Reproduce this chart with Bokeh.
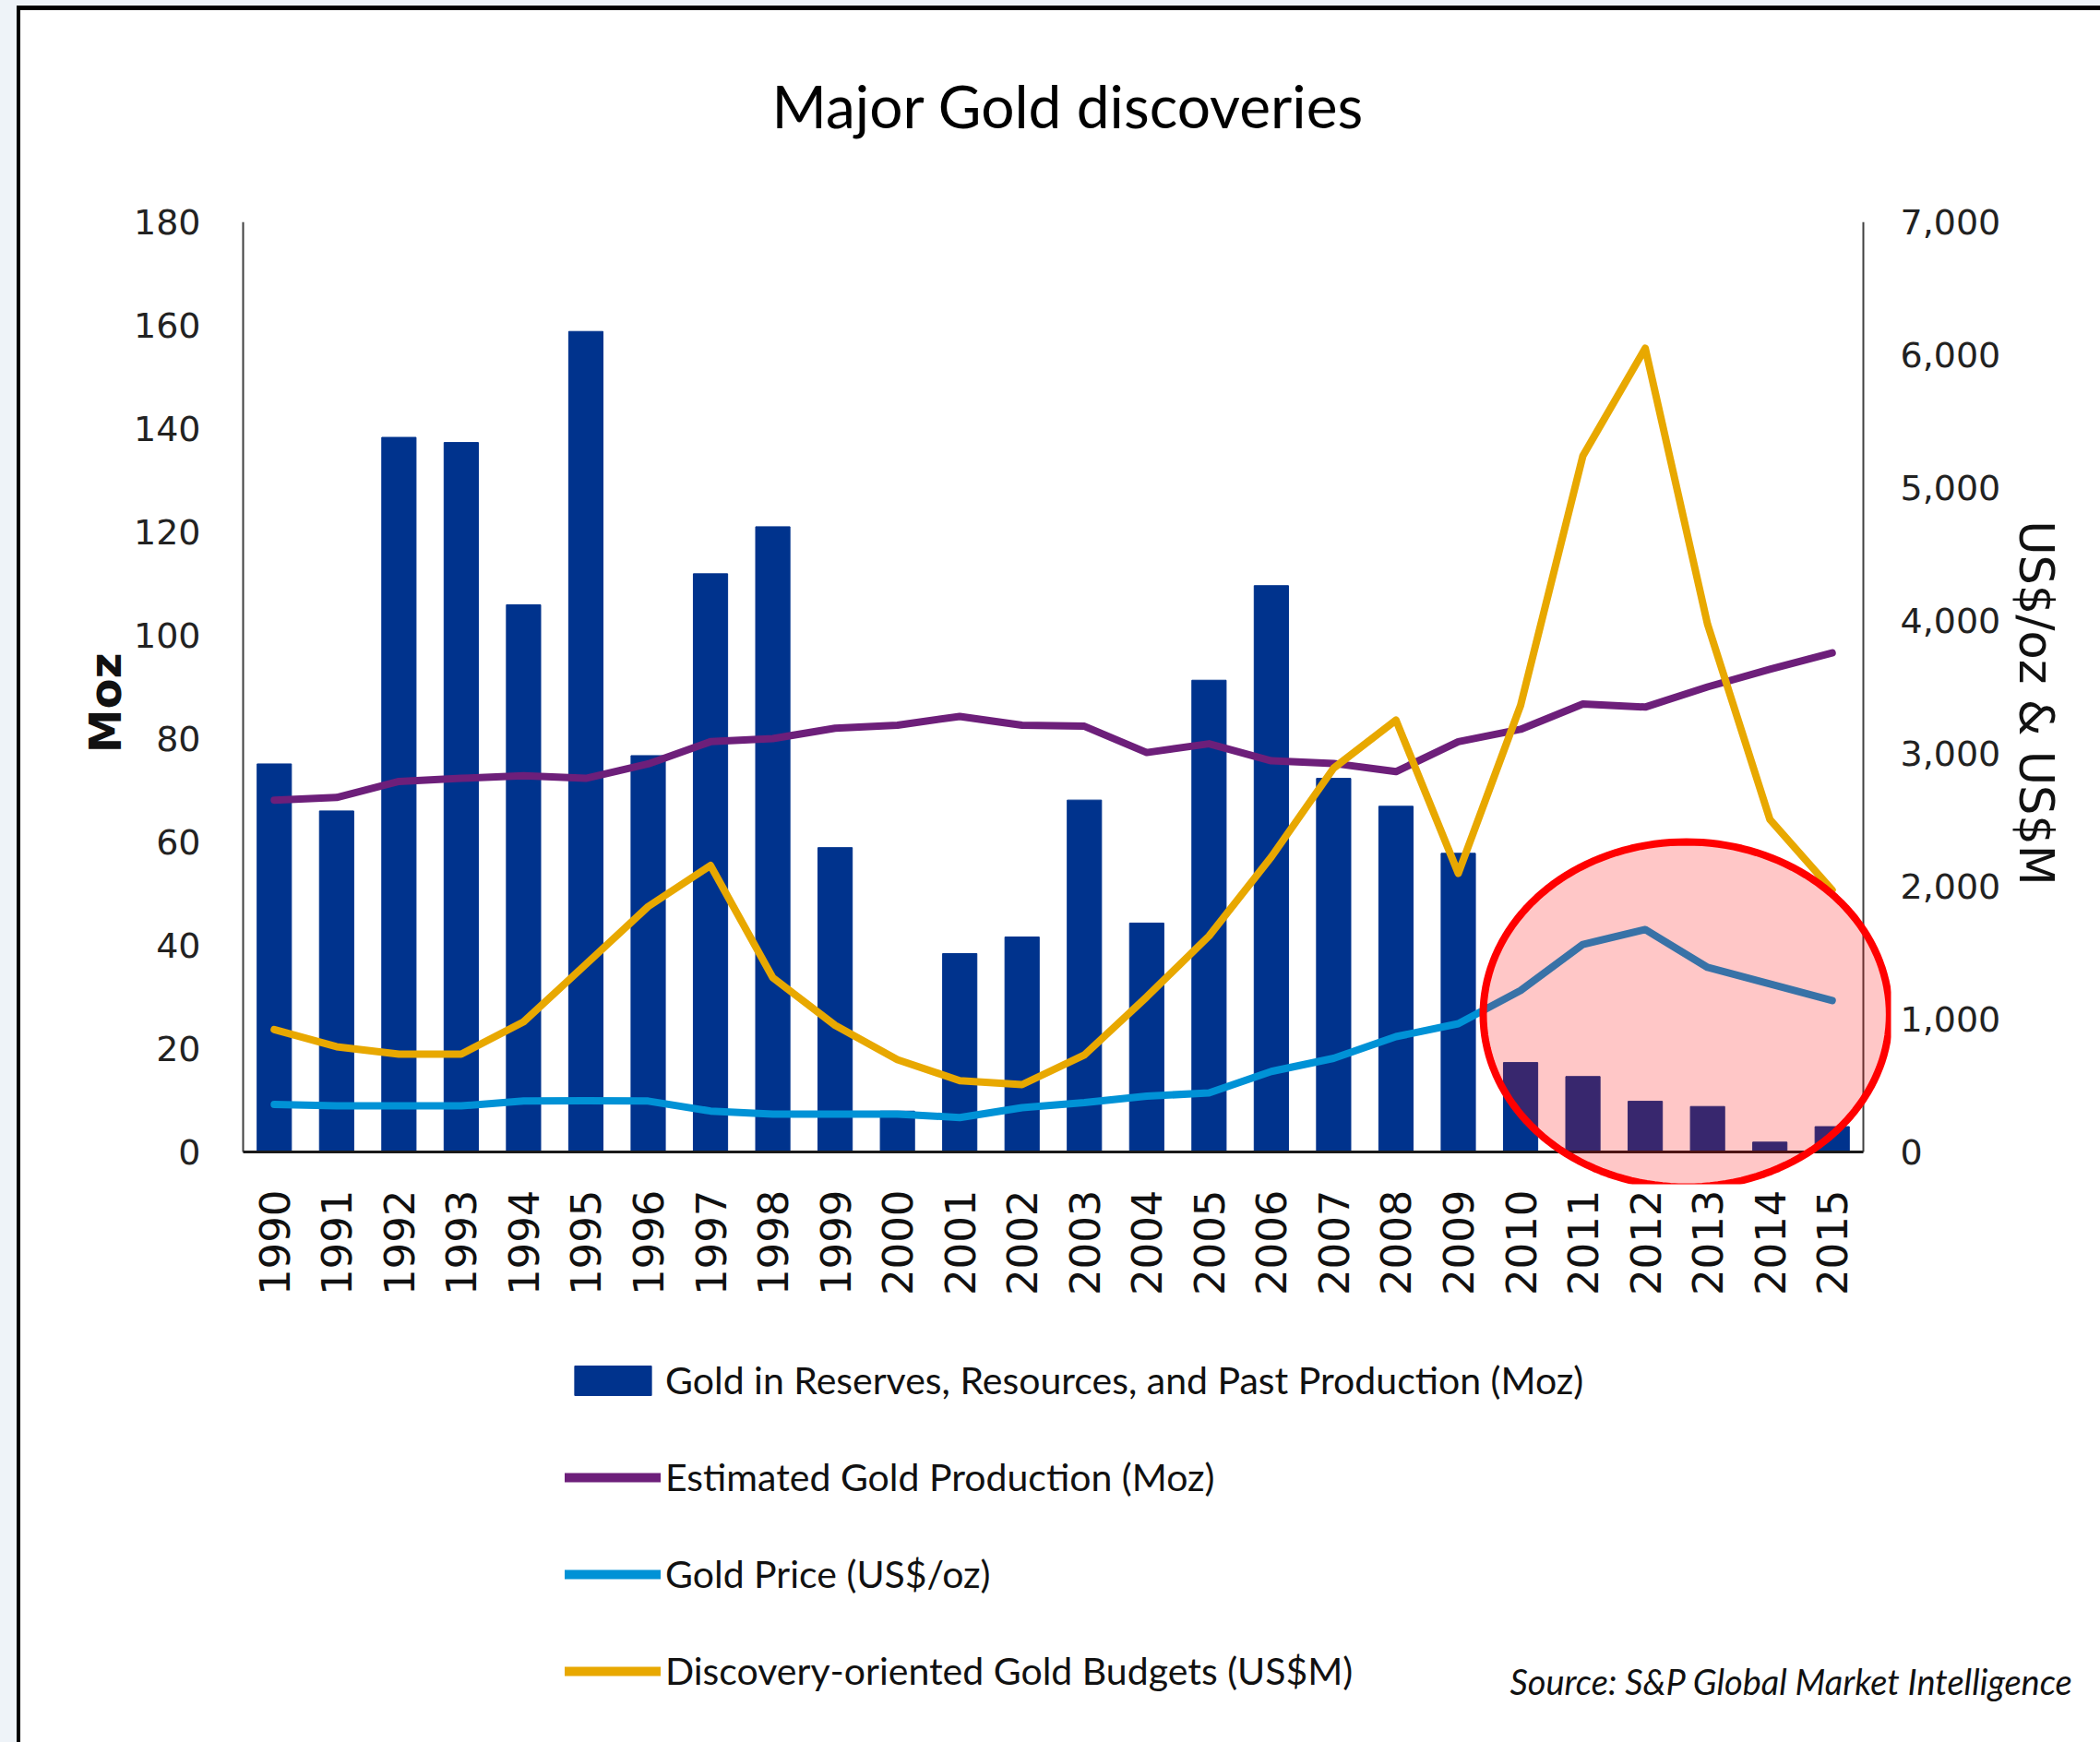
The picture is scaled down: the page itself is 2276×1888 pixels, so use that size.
import math
from bokeh.plotting import figure
from bokeh.layouts import column
from bokeh.models import (FactorRange, Range1d, LinearAxis, NumeralTickFormatter, FixedTicker,
                          Legend, LegendItem, PolyAnnotation, Label, ColumnDataSource)
from bokeh.embed import file_html
from bokeh.resources import INLINE

# ---------------- data ----------------
years = [str(y) for y in range(1990, 2016)]
discoveries_moz = [75.1, 66.0, 138.3, 137.3, 105.9, 158.8, 76.7, 111.9, 121.0, 58.9, 7.9, 38.4, 41.6,
                   68.1, 44.3, 91.3, 109.6, 72.3, 66.9, 57.8, 17.3, 14.6, 9.8, 8.8, 1.9, 4.9]
production_moz = [68.1, 68.6, 71.7, 72.3, 72.8, 72.3, 75.1, 79.4, 80.0, 82.0, 82.6, 84.3, 82.6,
                  82.4, 77.3, 79.0, 75.7, 75.2, 73.6, 79.4, 81.8, 86.7, 86.1, 90.0, 93.4, 96.6]
gold_price = [358, 347, 347, 347, 383, 385, 383, 308, 285, 285, 285, 259, 333,
              371, 420, 444, 606, 705, 868, 965, 1215, 1562, 1674, 1389, 1264, 1139]
budgets = [921, 792, 736, 736, 979, 1412, 1847, 2156, 1312, 953, 694, 537, 507,
           730, 1167, 1625, 2220, 2889, 3250, 2097, 3361, 5240, 6049, 3972, 2503, 1972]

left_ticks = [0, 20, 40, 60, 80, 100, 120, 140, 160, 180]
right_ticks = [0, 1000, 2000, 3000, 4000, 5000, 6000, 7000]

series_names = ["Gold in Reserves, Resources, and Past Production (Moz)",
                "Estimated Gold Production (Moz)",
                "Gold Price (US$/oz)",
                "Discovery-oriented Gold Budgets (US$M)"]
title_text = "Major Gold discoveries"
source_text = "Source: S&P Global Market Intelligence"

# ---------------- page geometry (page pixels) ----------------
PAGE_W, PAGE_H = 2276, 1888
STRIP_L, STRIP_T = 18, 6          # light strip outside the border
BORD_L, BORD_T = 4, 5             # black border line
OX = STRIP_L + BORD_L             # x of the figure canvases on the page
TOP0 = STRIP_T + BORD_T           # y of the first figure on the page
SPLIT1, SPLIT2 = 215, 1420        # page y where chart figure starts / legend figure starts
FW = PAGE_W - OX

PAGE_AL, PAGE_AR, PAGE_FT, PAGE_ZERO = 263, 2019, 240, 1248   # axis lines / top / zero line
EXT = 35                           # plot area reaches a little below 0 ...
SIDE_EXT = 30                      # ... and beyond the axis lines, so the highlight is not cut
LEFT_MAX, RIGHT_MAX = 180, 7000

BAR_C = "#00338d"
PURPLE = "#6d1f7a"
BLUE = "#0092d6"
GOLD = "#e8a800"
TXTF = "Lato"
TICKF = "DejaVu Sans"
MID = 0.387                        # middle-of-text offset above the baseline, in em (Lato)


def blank_fig(h):
    f = figure(width=FW, height=h, x_range=Range1d(0, FW), y_range=Range1d(0, h),
               output_backend="svg", toolbar_location=None, x_axis_location=None, y_axis_location=None,
               min_border=0, min_border_left=0, min_border_right=0, min_border_top=0, min_border_bottom=0)
    f.outline_line_color = None
    f.xgrid.visible = False
    f.ygrid.visible = False
    f.background_fill_color = "white"
    f.border_fill_color = "white"
    return f


# ---------------- middle: chart ----------------
H1 = SPLIT2 - SPLIT1
AL, AR, FT = PAGE_AL - OX, PAGE_AR - OX, PAGE_FT - SPLIT1
FL, FR = AL - SIDE_EXT, AR + SIDE_EXT
ZERO_Y = PAGE_ZERO - SPLIT1
FB = ZERO_Y + EXT
left_start = -EXT * LEFT_MAX / (ZERO_Y - FT)
right_start = -EXT * RIGHT_MAX / (ZERO_Y - FT)
n_cat = len(years)
cat_pad = SIDE_EXT * n_cat / (AR - AL)

src = ColumnDataSource(dict(year=years, disc=discoveries_moz, prod=production_moz,
                            price=gold_price, budget=budgets))

p = figure(width=FW, height=H1,
           x_range=FactorRange(*years, range_padding=cat_pad, range_padding_units="absolute"),
           y_range=Range1d(left_start, LEFT_MAX),
           output_backend="svg", toolbar_location=None,
           min_border_left=FL, min_border_right=FW - FR, min_border_top=FT, min_border_bottom=H1 - FB)
p.extra_y_ranges = {"right": Range1d(right_start, RIGHT_MAX)}
p.outline_line_color = None
p.background_fill_color = "white"
p.border_fill_color = "white"
p.xgrid.visible = False
p.ygrid.visible = False

bars = p.vbar(x="year", top="disc", bottom=0, width=0.55, source=src, color=BAR_C)
p.line(x="year", y="prod", source=src, line_color=PURPLE, line_width=8, line_join="round", line_cap="round")
p.line(x="year", y="price", source=src, y_range_name="right", line_color=BLUE, line_width=8,
       line_join="round", line_cap="round")
p.line(x="year", y="budget", source=src, y_range_name="right", line_color=GOLD, line_width=8,
       line_join="round", line_cap="round")

# axis lines at the edges of the category span (0 .. n_cat) and at value 0
p.segment(x0=[0, n_cat], y0=[0, 0], x1=[0, n_cat], y1=[LEFT_MAX, LEFT_MAX], line_color="#404040", line_width=2)
p.segment(x0=[0], y0=[0], x1=[n_cat], y1=[0], line_color="#1a1a1a", line_width=3)

xa = p.xaxis[0]
xa.major_label_orientation = math.pi / 2
xa.major_label_text_font = TICKF
xa.major_label_text_font_size = "45px"
xa.major_label_text_color = "#111111"
xa.major_tick_line_color = None
xa.minor_tick_line_color = None
xa.axis_line_color = None
xa.major_label_standoff = 0

ya = p.yaxis[0]
ya.ticker = FixedTicker(ticks=left_ticks)
ya.major_label_text_font = TICKF
ya.major_label_text_font_size = "38px"
ya.major_label_text_color = "#222222"
ya.major_tick_line_color = None
ya.minor_tick_line_color = None
ya.axis_line_color = None
ya.major_label_standoff = 40 - SIDE_EXT
ya.axis_label = "Moz"
ya.axis_label_text_font = TICKF
ya.axis_label_text_font_style = "bold"
ya.axis_label_text_font_size = "48px"
ya.axis_label_text_color = "#111111"
ya.axis_label_standoff = 0

ra = LinearAxis(y_range_name="right", ticker=FixedTicker(ticks=right_ticks),
                formatter=NumeralTickFormatter(format="0,0"))
ra.major_label_text_font = TICKF
ra.major_label_text_font_size = "38px"
ra.major_label_text_color = "#222222"
ra.major_tick_line_color = None
ra.minor_tick_line_color = None
ra.axis_line_color = None
ra.major_label_standoff = 34 - SIDE_EXT
ra.axis_label = "US$/oz & US$M"
ra.axis_label_text_font = TICKF
ra.axis_label_text_font_style = "normal"
ra.axis_label_text_font_size = "51px"
ra.axis_label_text_color = "#111111"
ra.axis_label_standoff = 6
p.add_layout(ra, "right")

# highlight ellipse around 2010-2015 (annotation; categorical synthetic x / left-axis y)
ELL_CX, ELL_CY, ELL_RX, ELL_RY = 23.16, 26.6, 3.26, 33.4
ts = [2 * math.pi * i / 160 for i in range(161)]
p.add_layout(PolyAnnotation(xs=[ELL_CX + ELL_RX * math.cos(t) for t in ts],
                            ys=[ELL_CY + ELL_RY * math.sin(t) for t in ts],
                            fill_color="#ff0000", fill_alpha=0.22,
                            line_color="#ff0000", line_alpha=1.0, line_width=8))

# ---------------- top: title ----------------
H0 = SPLIT1 - TOP0
p0 = blank_fig(H0)

# ---------------- bottom: legend and source ----------------
H2 = PAGE_H - SPLIT2
p2 = blank_fig(H2)

unaligned = "frame_align" in p2.properties()
if unaligned:
    p0.frame_align = False
    p2.frame_align = False
XB = 0 if unaligned else FL        # canvas x of the frame's left edge in p0 / p2

TITLE_PX = 64
p0.add_layout(Label(x=1157 - OX - XB, y=H0 - (139 - MID * TITLE_PX - TOP0), x_units="screen", y_units="screen",
                    text=title_text, text_align="center", text_baseline="middle",
                    text_font=TXTF, text_font_size=f"{TITLE_PX}px", text_color="#000000"))

# legend key glyphs (proxies placed outside the visible range)
k_bar = p2.vbar(x=[-500], top=[-500], bottom=[-600], width=10, color=BAR_C)
k_prod = p2.line(x=[-600, -500], y=[-500, -500], line_color=PURPLE, line_width=10, line_cap="round")
k_price = p2.line(x=[-600, -500], y=[-500, -500], line_color=BLUE, line_width=10, line_cap="round")
k_budget = p2.line(x=[-600, -500], y=[-500, -500], line_color=GOLD, line_width=10, line_cap="round")

ROW_PITCH = 106
LAST_ROW_CENTER = 1810
TEXT_H = 50                      # height of one legend text line as measured by bokeh
legend_bottom = LAST_ROW_CENTER + TEXT_H / 2
legend = Legend(items=[LegendItem(label=series_names[0], renderers=[k_bar]),
                       LegendItem(label=series_names[1], renderers=[k_prod]),
                       LegendItem(label=series_names[2], renderers=[k_price]),
                       LegendItem(label=series_names[3], renderers=[k_budget])],
                location=(612 - OX - XB, H2 - (legend_bottom - SPLIT2)), orientation="vertical",
                glyph_width=104, glyph_height=40, label_standoff=5, spacing=ROW_PITCH - TEXT_H,
                padding=0, margin=0, border_line_color=None, background_fill_alpha=0,
                label_text_font=TXTF, label_text_font_size="41px", label_text_color="#111111",
                label_height=40)
p2.add_layout(legend, "center")

SRC_PX = 38
p2.add_layout(Label(x=1636 - OX - XB, y=H2 - (1836 - MID * SRC_PX - SPLIT2), x_units="screen", y_units="screen",
                    text=source_text, text_align="left", text_baseline="middle",
                    text_font=TXTF, text_font_style="italic", text_font_size=f"{SRC_PX}px",
                    text_color="#111111"))

inner = column(p0, p, p2, spacing=0, margin=(STRIP_T, 0, 0, STRIP_L),
               styles={"background-color": "#ffffff",
                       "border-left": f"{BORD_L}px solid #000000",
                       "border-top": f"{BORD_T}px solid #000000"})
outer = column(inner, spacing=0, styles={"background-color": "#eef3f8"})

open("out.html", "w").write(file_html(outer, INLINE))
